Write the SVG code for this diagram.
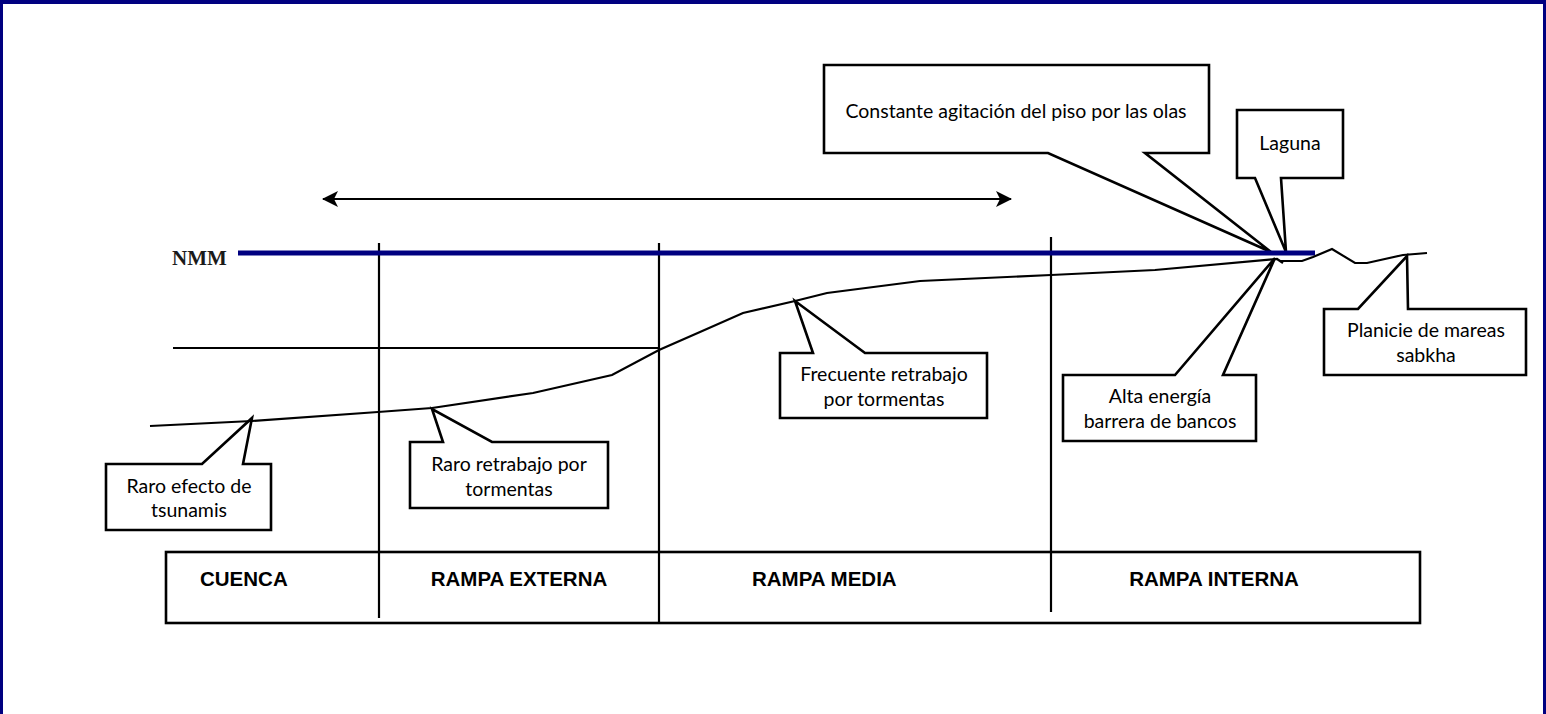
<svg xmlns="http://www.w3.org/2000/svg" width="1546" height="714" viewBox="0 0 1546 714">
<defs>
<style>
.ln{fill:none;stroke:#000;stroke-width:2.2}
.co{fill:#fff;stroke:#000;stroke-width:2.6;stroke-linejoin:miter}
.ct{font-family:Lato,"Open Sans",sans-serif;font-size:19.5px;fill:#000;text-anchor:middle}
.zt{font-family:"Liberation Sans",Arial,sans-serif;font-size:20.5px;font-weight:bold;fill:#000}
.nmm{font-family:"Liberation Serif","Times New Roman",serif;font-size:21px;font-weight:bold;fill:#1a1a1a}
</style>
<marker id="ah" viewBox="0 0 16 16" refX="15" refY="8" markerWidth="16" markerHeight="16" markerUnits="userSpaceOnUse" orient="auto-start-reverse">
<path d="M0,0 L16,8 L0,16 L4,8 Z" fill="#000"/>
</marker>
</defs>
<rect width="1546" height="714" fill="#fff"/>
<g id="frame">
<rect x="0" y="0" width="1546" height="4" fill="#000080"/>
<rect x="0" y="0" width="3" height="714" fill="#000080"/>
<rect x="1543" y="0" width="3" height="714" fill="#000080"/>
</g>

<g id="callout-constante">
<path class="co" d="M824,65 H1209 V153 H1145 L1271,252 L1048,153 H824 Z"/>
<text class="ct" x="1016" y="118">Constante agitación del piso por las olas</text>
</g>
<g id="callout-laguna">
<path class="co" d="M1237,110 H1343 V178 H1281 L1286,252 L1255,178 H1237 Z"/>
<text class="ct" x="1290" y="150">Laguna</text>
</g>
<g id="callout-alta">
<path class="co" d="M1063,375 H1175 L1275,258 L1223,375 H1256 V441 H1063 Z"/>
<text class="ct" x="1160" y="403">Alta energía</text>
<text class="ct" x="1160" y="428">barrera de bancos</text>
</g>
<g id="callout-planicie">
<path class="co" d="M1324,309 H1358 L1407,256 L1408,309 H1526 V375 H1324 Z"/>
<text class="ct" x="1426" y="337">Planicie de mareas</text>
<text class="ct" x="1426" y="362">sabkha</text>
</g>
<g id="callout-frecuente">
<path class="co" d="M780,353 H813 L795,301 L865,353 H987 V418 H780 Z"/>
<text class="ct" x="884" y="381">Frecuente retrabajo</text>
<text class="ct" x="884" y="406">por tormentas</text>
</g>
<g id="callout-raro-retrabajo">
<path class="co" d="M410,442 H443 L432,409 L492,442 H608 V508 H410 Z"/>
<text class="ct" x="509" y="471">Raro retrabajo por</text>
<text class="ct" x="509" y="496">tormentas</text>
</g>
<g id="callout-raro-efecto">
<path class="co" d="M106,464 H202 L252,418 L243,464 H271 V530 H106 Z"/>
<text class="ct" x="189" y="493">Raro efecto de</text>
<text class="ct" x="189" y="517">tsunamis</text>
</g>

<g id="table">
<rect x="166" y="552" width="1254" height="71" fill="#fff" stroke="#000" stroke-width="2.6"/>
<text class="zt" x="200" y="586">CUENCA</text>
<text class="zt" x="519" y="586" text-anchor="middle">RAMPA EXTERNA</text>
<text class="zt" x="752" y="586">RAMPA MEDIA</text>
<text class="zt" x="1214" y="586" text-anchor="middle">RAMPA INTERNA</text>
</g>

<g id="connectors">
<line class="ln" x1="379" y1="243" x2="379" y2="618"/>
<line class="ln" x1="659" y1="243" x2="659" y2="623"/>
<line class="ln" x1="1051" y1="237" x2="1051" y2="612"/>
<line class="ln" x1="173" y1="348" x2="659" y2="348"/>
<line class="ln" x1="323" y1="199" x2="1011" y2="199" marker-start="url(#ah)" marker-end="url(#ah)"/>
<line x1="238" y1="253" x2="1315" y2="253" stroke="#000080" stroke-width="5"/>
<polyline class="ln" points="150,426 252,421 378,412 432,408 533,393 612,375 659,350 700,332 743,313 795,301 827,293 920,281 1051,275 1155,270 1277,259 1283,263"/>
<polyline class="ln" points="1280,261 1302,261 1313,257 1332,249 1355,263 1367,263 1403,255 1427,253"/>
</g>
<text class="nmm" x="172" y="265">NMM</text>
</svg>
